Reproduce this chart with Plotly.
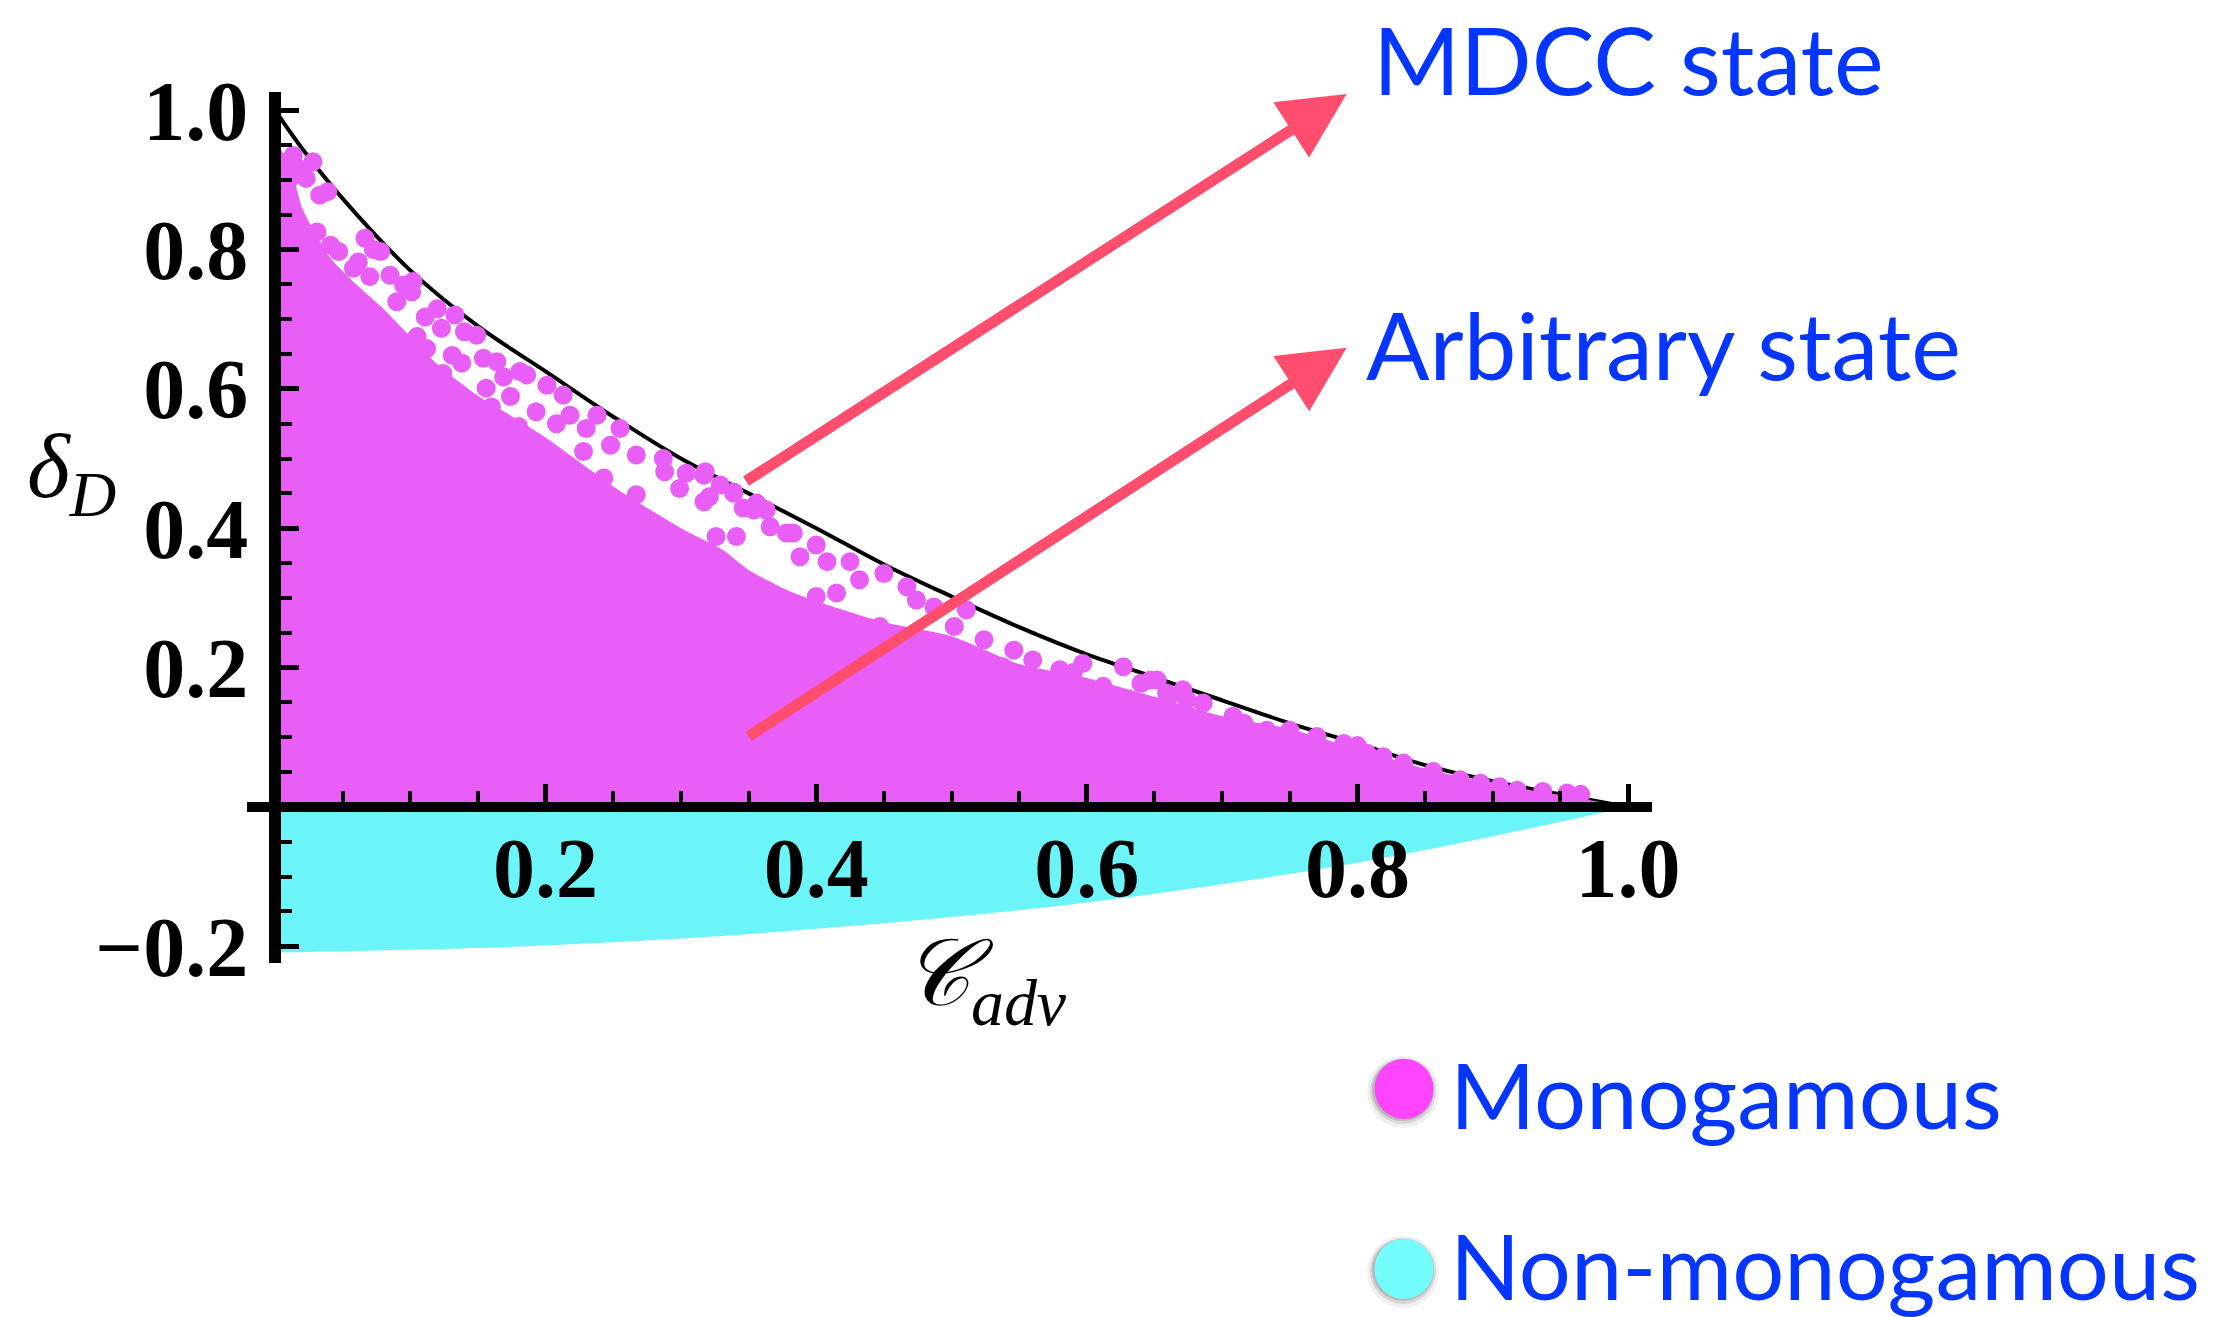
import plotly.graph_objects as go

# ---------------------------------------------------------------
# Data (C_adv on x, delta_D on y)
# ---------------------------------------------------------------
# Upper boundary curve traced by the MDCC states
mdcc_x = [0.0, 0.02, 0.05, 0.10, 0.15, 0.20, 0.25, 0.30, 0.35, 0.40, 0.45,
          0.50, 0.55, 0.60, 0.65, 0.70, 0.75, 0.80, 0.85, 0.90, 0.95, 1.0]
mdcc_y = [1.0, 0.945, 0.873, 0.77, 0.69, 0.625, 0.56, 0.50, 0.45, 0.40, 0.348,
          0.302, 0.258, 0.219, 0.186, 0.153, 0.12, 0.091, 0.06, 0.037, 0.018, 0.0]

# Top edge of the densely populated part of the monogamous region
dense_x = [0.0, 0.01, 0.02, 0.04, 0.06, 0.08, 0.10, 0.12, 0.15, 0.18, 0.20,
           0.25, 0.30, 0.33, 0.35, 0.38, 0.40, 0.45, 0.50, 0.55, 0.60, 0.65,
           0.70, 0.75, 0.80, 0.85, 0.90, 0.95, 1.0]
dense_y = [0.95, 0.93, 0.86, 0.79, 0.75, 0.715, 0.675, 0.635, 0.59, 0.555, 0.53,
           0.46, 0.40, 0.37, 0.34, 0.31, 0.295, 0.265, 0.245, 0.205, 0.185, 0.158,
           0.13, 0.112, 0.083, 0.055, 0.033, 0.017, 0.0]

# Sparse monogamous states between the dense part and the MDCC curve
mono_x = [0.0135, 0.018, 0.011, 0.033, 0.039, 0.031, 0.041, 0.047, 0.0665, 0.0727,
          0.0616, 0.058, 0.070, 0.085, 0.095, 0.101, 0.090, 0.111, 0.123, 0.133,
          0.140, 0.105, 0.112, 0.131, 0.138, 0.124, 0.164, 0.169, 0.186, 0.201,
          0.213, 0.156, 0.174, 0.160, 0.193, 0.208, 0.230, 0.248, 0.228, 0.287,
          0.288, 0.304, 0.317, 0.339, 0.356, 0.147, 0.180, 0.267, 0.243, 0.317,
          0.023, 0.028, 0.078, 0.102, 0.120, 0.149, 0.154, 0.181, 0.218, 0.238,
          0.255, 0.267, 0.299, 0.329, 0.346,
          0.318, 0.339, 0.321, 0.354, 0.326, 0.341, 0.366, 0.378, 0.400, 0.388,
          0.408, 0.425, 0.432, 0.450, 0.400, 0.415, 0.368, 0.474, 0.447, 0.511,
          0.546, 0.538, 0.580, 0.590, 0.627, 0.647, 0.659, 0.612,
          0.363, 0.383, 0.467, 0.487, 0.502, 0.524, 0.560, 0.597, 0.640, 0.674,
          0.652, 0.661, 0.686, 0.676, 0.716, 0.750, 0.790, 0.800, 0.819, 0.856,
          0.891, 0.918, 0.955, 0.965,
          0.671, 0.708, 0.733, 0.770, 0.807, 0.834, 0.876, 0.905, 0.937]
mono_y = [0.935, 0.916, 0.902, 0.878, 0.883, 0.825, 0.806, 0.797, 0.816, 0.800,
          0.782, 0.773, 0.761, 0.763, 0.749, 0.739, 0.725, 0.703, 0.687, 0.706,
          0.682, 0.675, 0.658, 0.648, 0.637, 0.622, 0.639, 0.617, 0.620, 0.605,
          0.591, 0.601, 0.589, 0.574, 0.567, 0.550, 0.543, 0.519, 0.510, 0.500,
          0.481, 0.479, 0.476, 0.452, 0.436, 0.560, 0.546, 0.448, 0.472, 0.438,
          0.902, 0.926, 0.797, 0.754, 0.715, 0.677, 0.644, 0.625, 0.562, 0.562,
          0.543, 0.505, 0.457, 0.462, 0.429,
          0.481, 0.450, 0.445, 0.426, 0.388, 0.388, 0.402, 0.393, 0.376, 0.359,
          0.352, 0.352, 0.326, 0.335, 0.302, 0.307, 0.283, 0.297, 0.259, 0.283,
          0.225, 0.201, 0.197, 0.193, 0.201, 0.182, 0.163, 0.173,
          0.426, 0.393, 0.316, 0.287, 0.259, 0.240, 0.211, 0.206, 0.177, 0.154,
          0.182, 0.158, 0.149, 0.130, 0.120, 0.110, 0.091, 0.088, 0.072, 0.051,
          0.034, 0.024, 0.020, 0.018,
          0.168, 0.130, 0.110, 0.101, 0.077, 0.063, 0.039, 0.029, 0.022]

# Lower edge of the non-monogamous region
nonmono_x = [0.0, 0.1, 0.2, 0.3, 0.4, 0.5, 0.6, 0.7, 0.8, 0.9, 1.0]
nonmono_y = [-0.209, -0.205, -0.199, -0.189, -0.175, -0.158, -0.137, -0.111,
             -0.080, -0.042, 0.0]

# Arrows: (tail x, tail y, head x, head y)
mdcc_arrow = [0.347, 0.466, 0.792, 1.023]
arb_arrow = [0.349, 0.100, 0.792, 0.659]

x_ticks = [0.2, 0.4, 0.6, 0.8, 1.0]
x_ticktext = ["0.2", "0.4", "0.6", "0.8", "1.0"]
y_ticks = [-0.2, 0.2, 0.4, 0.6, 0.8, 1.0]
y_ticktext = ["\u22120.2", "0.2", "0.4", "0.6", "0.8", "1.0"]

# ---------------------------------------------------------------
MAGENTA = "#E85EF6"
CYAN = "#6CF5F8"
BLUE = "#0536FF"
ARROW = "#FF4D6D"

X_RANGE = [-0.0207, 1.0177]
Y_RANGE = [-0.224, 1.026]

fig = go.Figure()

fig.add_trace(go.Scatter(
    x=nonmono_x, y=nonmono_y, mode="lines", fill="tozeroy",
    line=dict(width=0, color=CYAN, shape="spline"), fillcolor=CYAN,
    hoverinfo="skip"))

fig.add_trace(go.Scatter(
    x=mdcc_x, y=mdcc_y, mode="lines",
    line=dict(width=4, color="black", shape="spline"), hoverinfo="skip"))

fig.add_trace(go.Scatter(
    x=dense_x, y=dense_y, mode="lines", fill="tozeroy",
    line=dict(width=0, color=MAGENTA, shape="spline", smoothing=0.6),
    fillcolor=MAGENTA, hoverinfo="skip"))

fig.add_trace(go.Scatter(
    x=mono_x, y=mono_y, mode="markers",
    marker=dict(size=19, color=MAGENTA, line=dict(width=0)),
    hoverinfo="skip"))

minor_x = [round(0.05 * i, 2) for i in range(0, 21)]
minor_y = [round(-0.2 + 0.05 * i, 2) for i in range(0, 25)]

tick_font = dict(family="Liberation Serif", size=84, color="black", weight="bold")

fig.update_xaxes(
    range=X_RANGE, anchor="free", position=(0 - Y_RANGE[0]) / (Y_RANGE[1] - Y_RANGE[0]),
    showline=True, linewidth=10, linecolor="black", zeroline=False, showgrid=False,
    tickmode="array", tickvals=x_ticks, ticktext=x_ticktext,
    ticks="inside", ticklen=18, tickwidth=5, tickcolor="black",
    minor=dict(tickmode="array", tickvals=minor_x, ticks="inside",
               ticklen=11, tickwidth=4, tickcolor="black", showgrid=False),
    tickfont=tick_font, ticklabelstandoff=-16)

fig.update_yaxes(
    range=Y_RANGE, anchor="free", position=(0 - X_RANGE[0]) / (X_RANGE[1] - X_RANGE[0]),
    showline=True, linewidth=12, linecolor="black", zeroline=False, showgrid=False,
    tickmode="array", tickvals=y_ticks, ticktext=y_ticktext,
    ticks="inside", ticklen=18, tickwidth=5, tickcolor="black",
    minor=dict(tickmode="array", tickvals=minor_y, ticks="inside",
               ticklen=11, tickwidth=4, tickcolor="black", showgrid=False),
    tickfont=tick_font, ticklabelstandoff=4)

# Arrows pointing from the plot to the state labels
for tx, ty, hx, hy in (mdcc_arrow, arb_arrow):
    fig.add_annotation(
        x=hx, y=hy, ax=tx, ay=ty, xref="x", yref="y", axref="x", ayref="y",
        text="", showarrow=True, arrowhead=2, arrowsize=1.2, arrowwidth=11,
        arrowcolor=ARROW, standoff=0, startstandoff=0)

label_font = dict(family="Lato", size=94, color=BLUE)
fig.add_annotation(text="MDCC state", xref="paper", yref="paper", x=0.800, y=1.039,
                   xanchor="left", yanchor="middle", showarrow=False, font=label_font)
fig.add_annotation(text="Arbitrary state", xref="paper", yref="paper", x=0.795, y=0.711,
                   xanchor="left", yanchor="middle", showarrow=False, font=label_font)

# Axis labels
fig.add_annotation(text="<i>\u03b4</i><sub><i>D</i></sub>", xref="paper", yref="paper",
                   x=-0.1246, y=0.5637, xanchor="center", yanchor="middle", showarrow=False,
                   font=dict(family="Liberation Serif", size=92, color="black"))
fig.add_annotation(text="<i>\U0001D49E</i><sub><i>adv</i></sub>", xref="paper", yref="paper",
                   x=0.525, y=-0.02, xanchor="center", yanchor="middle", showarrow=False,
                   font=dict(family="Liberation Serif", size=94, color="black"))

# Legend: coloured dots with labels
legend_items = [("Monogamous", "#FF44FF", -0.1447, -0.150),
                ("Non-monogamous", "#74FDFD", -0.3513, -0.3456)]
for name, col, cy, ty in legend_items:
    for r, a, dy in ((36, 0.06, -3), (33, 0.10, -2), (31, 0.14, -1)):
        fig.add_shape(type="circle", xref="paper", yref="paper",
                      xsizemode="pixel", ysizemode="pixel",
                      xanchor=0.8235, yanchor=cy, x0=-r - 1, x1=r - 1, y0=-r + dy, y1=r + dy,
                      fillcolor=f"rgba(0,0,0,{a})", line=dict(width=0))
    fig.add_shape(type="circle", xref="paper", yref="paper",
                  xsizemode="pixel", ysizemode="pixel",
                  xanchor=0.8235, yanchor=cy, x0=-29.5, x1=29.5, y0=-30, y1=30,
                  fillcolor=col, line=dict(width=0))
    fig.add_annotation(text=name, xref="paper", yref="paper", x=0.855, y=ty,
                       xanchor="left", yanchor="middle", showarrow=False,
                       font=dict(family="Lato", size=92, color=BLUE))

fig.update_layout(
    width=2239, height=1317,
    margin=dict(l=247, r=587, t=92, b=354, pad=0),
    paper_bgcolor="white", plot_bgcolor="white",
    showlegend=False)

fig.write_html("out.html", post_script="document.body.style.margin='0';")
